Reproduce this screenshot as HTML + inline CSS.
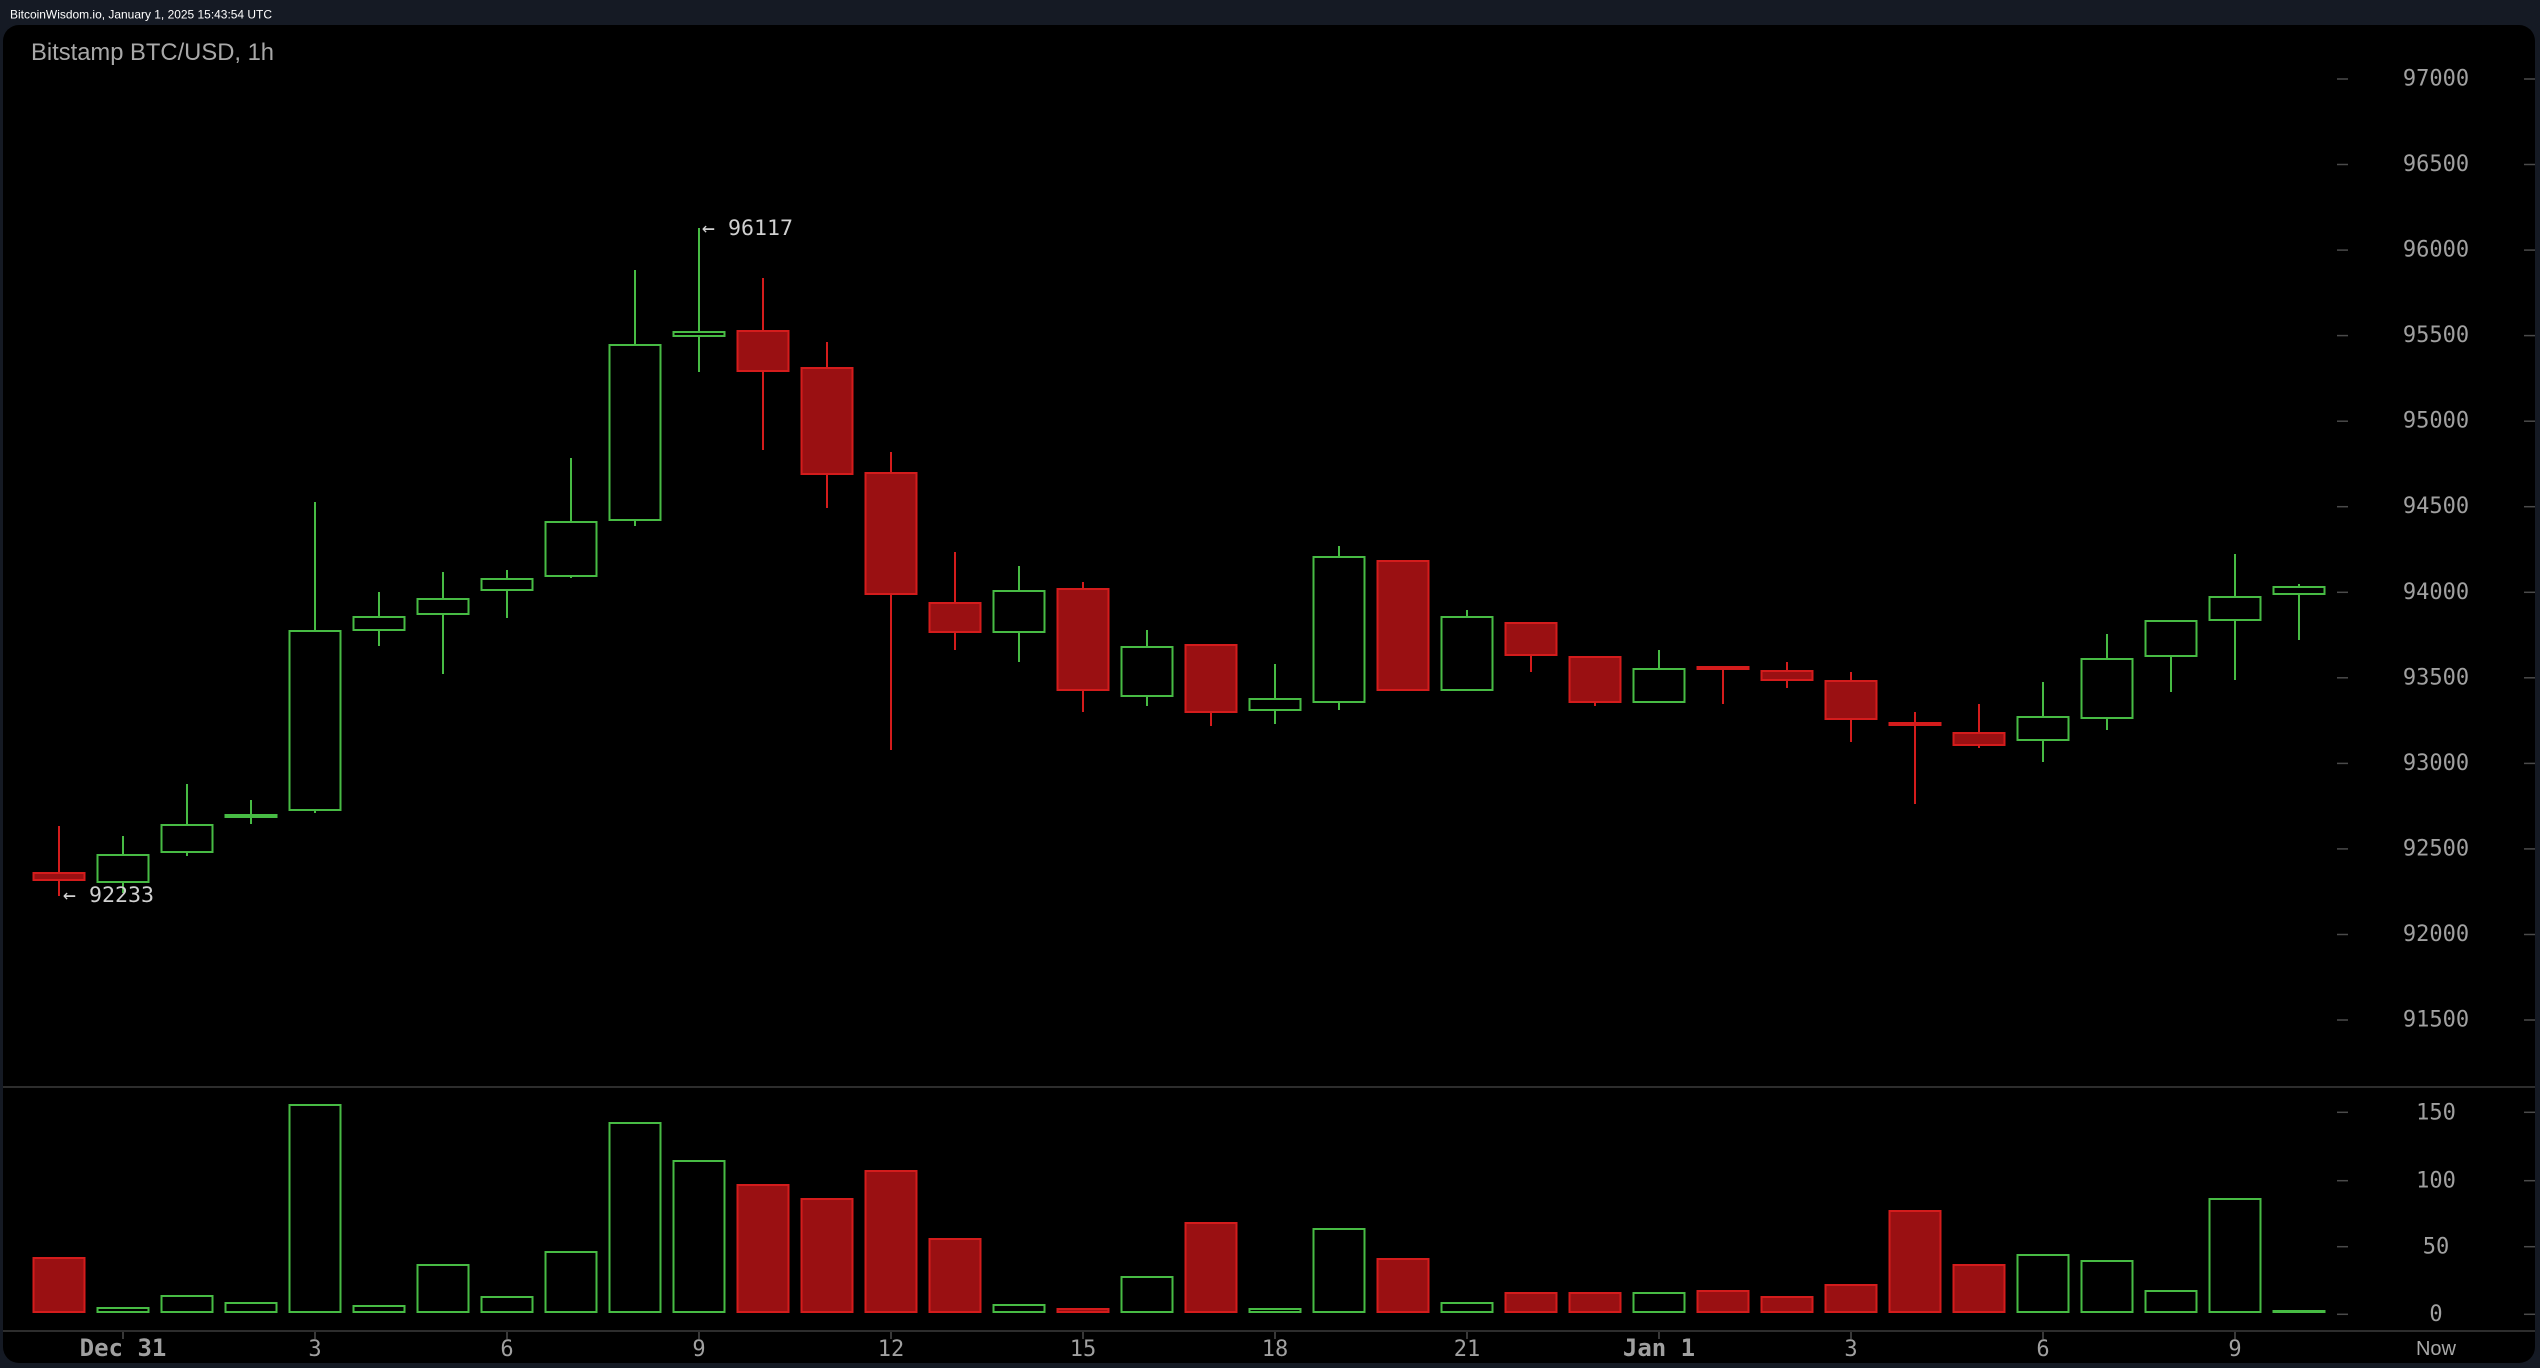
<!DOCTYPE html>
<html>
<head>
<meta charset="utf-8">
<style>
html,body{margin:0;padding:0;background:#151a24;}
body{width:2540px;height:1368px;overflow:hidden;}
svg{display:block;}
.g line{stroke:#47bb44;stroke-width:2;}
.g rect{stroke:#47bb44;stroke-width:2;fill:#000;}
.r line{stroke:#d41c1c;stroke-width:2;}
.r rect{stroke:#d41c1c;stroke-width:2;fill:#9a1012;}
.gf{fill:#47bb44;}
.rf{fill:#d41c1c;}
.ax{font-family:"DejaVu Sans Mono","Liberation Mono",monospace;font-size:22px;fill:#a0a0a0;text-anchor:middle;}
.tk{stroke:#4a4a4a;stroke-width:1.5;}
</style>
</head>
<body>
<svg width="2540" height="1368" viewBox="0 0 2540 1368" xmlns="http://www.w3.org/2000/svg">
<rect x="0" y="0" width="2540" height="1368" fill="#151a24"/>
<text x="10" y="18.5" font-family="Liberation Sans, Arial, sans-serif" font-size="12" fill="#ffffff" textLength="262" lengthAdjust="spacingAndGlyphs">BitcoinWisdom.io, January 1, 2025 15:43:54 UTC</text>
<rect x="3" y="25" width="2532" height="1338" rx="16" ry="16" fill="#000"/>
<text x="31" y="60" font-family="Liberation Sans, Arial, sans-serif" font-size="24" fill="#a8a8a8" textLength="243" lengthAdjust="spacingAndGlyphs">Bitstamp BTC/USD, 1h</text>

<!-- separators -->
<line x1="3" y1="1087" x2="2535" y2="1087" stroke="#3c3c3c" stroke-width="1.5"/>
<line x1="3" y1="1331" x2="2535" y2="1331" stroke="#3c3c3c" stroke-width="1.5"/>

<!-- price axis -->
<g>
<line class="tk" x1="2337" y1="79" x2="2348" y2="79"/><line class="tk" x1="2524" y1="79" x2="2535" y2="79"/>
<line class="tk" x1="2337" y1="164.5" x2="2348" y2="164.5"/><line class="tk" x1="2524" y1="164.5" x2="2535" y2="164.5"/>
<line class="tk" x1="2337" y1="250.1" x2="2348" y2="250.1"/><line class="tk" x1="2524" y1="250.1" x2="2535" y2="250.1"/>
<line class="tk" x1="2337" y1="335.6" x2="2348" y2="335.6"/><line class="tk" x1="2524" y1="335.6" x2="2535" y2="335.6"/>
<line class="tk" x1="2337" y1="421.2" x2="2348" y2="421.2"/><line class="tk" x1="2524" y1="421.2" x2="2535" y2="421.2"/>
<line class="tk" x1="2337" y1="506.7" x2="2348" y2="506.7"/><line class="tk" x1="2524" y1="506.7" x2="2535" y2="506.7"/>
<line class="tk" x1="2337" y1="592.3" x2="2348" y2="592.3"/><line class="tk" x1="2524" y1="592.3" x2="2535" y2="592.3"/>
<line class="tk" x1="2337" y1="677.8" x2="2348" y2="677.8"/><line class="tk" x1="2524" y1="677.8" x2="2535" y2="677.8"/>
<line class="tk" x1="2337" y1="763.4" x2="2348" y2="763.4"/><line class="tk" x1="2524" y1="763.4" x2="2535" y2="763.4"/>
<line class="tk" x1="2337" y1="848.9" x2="2348" y2="848.9"/><line class="tk" x1="2524" y1="848.9" x2="2535" y2="848.9"/>
<line class="tk" x1="2337" y1="934.5" x2="2348" y2="934.5"/><line class="tk" x1="2524" y1="934.5" x2="2535" y2="934.5"/>
<line class="tk" x1="2337" y1="1020" x2="2348" y2="1020"/><line class="tk" x1="2524" y1="1020" x2="2535" y2="1020"/>
<text class="ax" x="2436" y="85.5">97000</text>
<text class="ax" x="2436" y="171">96500</text>
<text class="ax" x="2436" y="256.6">96000</text>
<text class="ax" x="2436" y="342.1">95500</text>
<text class="ax" x="2436" y="427.7">95000</text>
<text class="ax" x="2436" y="513.2">94500</text>
<text class="ax" x="2436" y="598.8">94000</text>
<text class="ax" x="2436" y="684.3">93500</text>
<text class="ax" x="2436" y="769.9">93000</text>
<text class="ax" x="2436" y="855.4">92500</text>
<text class="ax" x="2436" y="941">92000</text>
<text class="ax" x="2436" y="1026.5">91500</text>
</g>

<!-- volume axis -->
<g>
<line class="tk" x1="2337" y1="1112.3" x2="2348" y2="1112.3"/><line class="tk" x1="2524" y1="1112.3" x2="2535" y2="1112.3"/>
<line class="tk" x1="2337" y1="1180.7" x2="2348" y2="1180.7"/><line class="tk" x1="2524" y1="1180.7" x2="2535" y2="1180.7"/>
<line class="tk" x1="2337" y1="1246.7" x2="2348" y2="1246.7"/><line class="tk" x1="2524" y1="1246.7" x2="2535" y2="1246.7"/>
<line class="tk" x1="2337" y1="1314.3" x2="2348" y2="1314.3"/><line class="tk" x1="2524" y1="1314.3" x2="2535" y2="1314.3"/>
<text class="ax" x="2436" y="1119.5">150</text>
<text class="ax" x="2436" y="1187.3">100</text>
<text class="ax" x="2436" y="1253.3">50</text>
<text class="ax" x="2436" y="1321">0</text>
</g>

<!-- x axis -->
<g>
<line class="tk" x1="123" y1="1332" x2="123" y2="1339"/>
<line class="tk" x1="315" y1="1332" x2="315" y2="1339"/>
<line class="tk" x1="507" y1="1332" x2="507" y2="1339"/>
<line class="tk" x1="699" y1="1332" x2="699" y2="1339"/>
<line class="tk" x1="891" y1="1332" x2="891" y2="1339"/>
<line class="tk" x1="1083" y1="1332" x2="1083" y2="1339"/>
<line class="tk" x1="1275" y1="1332" x2="1275" y2="1339"/>
<line class="tk" x1="1467" y1="1332" x2="1467" y2="1339"/>
<line class="tk" x1="1659" y1="1332" x2="1659" y2="1339"/>
<line class="tk" x1="1851" y1="1332" x2="1851" y2="1339"/>
<line class="tk" x1="2043" y1="1332" x2="2043" y2="1339"/>
<line class="tk" x1="2235" y1="1332" x2="2235" y2="1339"/>
<text class="ax" x="123" y="1356" font-weight="bold" style="font-size:24px">Dec 31</text>
<text class="ax" x="315" y="1356">3</text>
<text class="ax" x="507" y="1356">6</text>
<text class="ax" x="699" y="1356">9</text>
<text class="ax" x="891" y="1356">12</text>
<text class="ax" x="1083" y="1356">15</text>
<text class="ax" x="1275" y="1356">18</text>
<text class="ax" x="1467" y="1356">21</text>
<text class="ax" x="1659" y="1356" font-weight="bold" style="font-size:24px">Jan 1</text>
<text class="ax" x="1851" y="1356">3</text>
<text class="ax" x="2043" y="1356">6</text>
<text class="ax" x="2235" y="1356">9</text>
<text x="2436" y="1355" font-family="Liberation Sans, Arial, sans-serif" font-size="20" fill="#a8a8a8" text-anchor="middle">Now</text>
</g>

<!-- candles -->
<g class="r"><line x1="59" y1="826" x2="59" y2="896"/><rect x="33.5" y="873" width="51" height="7"/></g>
<g class="g"><line x1="123" y1="836" x2="123" y2="893"/><rect x="97.5" y="855" width="51" height="27"/></g>
<g class="g"><line x1="187" y1="784" x2="187" y2="856"/><rect x="161.5" y="825" width="51" height="27"/></g>
<g class="g"><line x1="251" y1="800" x2="251" y2="824"/></g><rect class="gf" x="224.5" y="814" width="53" height="4"/>
<g class="g"><line x1="315" y1="502" x2="315" y2="813"/><rect x="289.5" y="631" width="51" height="179"/></g>
<g class="g"><line x1="379" y1="592" x2="379" y2="646"/><rect x="353.5" y="617" width="51" height="13"/></g>
<g class="g"><line x1="443" y1="572" x2="443" y2="674"/><rect x="417.5" y="599" width="51" height="15"/></g>
<g class="g"><line x1="507" y1="570" x2="507" y2="618"/><rect x="481.5" y="579" width="51" height="11"/></g>
<g class="g"><line x1="571" y1="458" x2="571" y2="578"/><rect x="545.5" y="522" width="51" height="54"/></g>
<g class="g"><line x1="635" y1="270" x2="635" y2="526"/><rect x="609.5" y="345" width="51" height="175"/></g>
<g class="g"><line x1="699" y1="228" x2="699" y2="372"/><rect x="673.5" y="332" width="51" height="4"/></g>
<g class="r"><line x1="763" y1="278" x2="763" y2="450"/><rect x="737.5" y="331" width="51" height="40"/></g>
<g class="r"><line x1="827" y1="342" x2="827" y2="508"/><rect x="801.5" y="368" width="51" height="106"/></g>
<g class="r"><line x1="891" y1="452" x2="891" y2="750"/><rect x="865.5" y="473" width="51" height="121"/></g>
<g class="r"><line x1="955" y1="552" x2="955" y2="650"/><rect x="929.5" y="603" width="51" height="29"/></g>
<g class="g"><line x1="1019" y1="566" x2="1019" y2="662"/><rect x="993.5" y="591" width="51" height="41"/></g>
<g class="r"><line x1="1083" y1="582" x2="1083" y2="712"/><rect x="1057.5" y="589" width="51" height="101"/></g>
<g class="g"><line x1="1147" y1="630" x2="1147" y2="706"/><rect x="1121.5" y="647" width="51" height="49"/></g>
<g class="r"><line x1="1211" y1="644" x2="1211" y2="726"/><rect x="1185.5" y="645" width="51" height="67"/></g>
<g class="g"><line x1="1275" y1="664" x2="1275" y2="724"/><rect x="1249.5" y="699" width="51" height="11"/></g>
<g class="g"><line x1="1339" y1="546" x2="1339" y2="710"/><rect x="1313.5" y="557" width="51" height="145"/></g>
<g class="r"><rect x="1377.5" y="561" width="51" height="129"/></g>
<g class="g"><line x1="1467" y1="610" x2="1467" y2="691"/><rect x="1441.5" y="617" width="51" height="73"/></g>
<g class="r"><line x1="1531" y1="622" x2="1531" y2="672"/><rect x="1505.5" y="623" width="51" height="32"/></g>
<g class="r"><line x1="1595" y1="656" x2="1595" y2="706"/><rect x="1569.5" y="657" width="51" height="45"/></g>
<g class="g"><line x1="1659" y1="650" x2="1659" y2="703"/><rect x="1633.5" y="669" width="51" height="33"/></g>
<g class="r"><line x1="1723" y1="666" x2="1723" y2="704"/></g><rect class="rf" x="1696.5" y="666" width="53" height="4"/>
<g class="r"><line x1="1787" y1="662" x2="1787" y2="688"/><rect x="1761.5" y="671" width="51" height="9"/></g>
<g class="r"><line x1="1851" y1="672" x2="1851" y2="742"/><rect x="1825.5" y="681" width="51" height="38"/></g>
<g class="r"><line x1="1915" y1="712" x2="1915" y2="804"/></g><rect class="rf" x="1888.5" y="722" width="53" height="4"/>
<g class="r"><line x1="1979" y1="704" x2="1979" y2="748"/><rect x="1953.5" y="733" width="51" height="12"/></g>
<g class="g"><line x1="2043" y1="682" x2="2043" y2="762"/><rect x="2017.5" y="717" width="51" height="23"/></g>
<g class="g"><line x1="2107" y1="634" x2="2107" y2="730"/><rect x="2081.5" y="659" width="51" height="59"/></g>
<g class="g"><line x1="2171" y1="620" x2="2171" y2="692"/><rect x="2145.5" y="621" width="51" height="35"/></g>
<g class="g"><line x1="2235" y1="554" x2="2235" y2="680"/><rect x="2209.5" y="597" width="51" height="23"/></g>
<g class="g"><line x1="2299" y1="584" x2="2299" y2="640"/><rect x="2273.5" y="587" width="51" height="7"/></g>

<!-- high/low labels -->
<text x="702" y="235" font-family="DejaVu Sans Mono, Liberation Mono, monospace" font-size="21.6" fill="#d0d0d0">← 96117</text>
<text x="63" y="902" font-family="DejaVu Sans Mono, Liberation Mono, monospace" font-size="21.6" fill="#d0d0d0">← 92233</text>

<!-- volume -->
<g class="r"><rect x="33.5" y="1258" width="51" height="54"/></g>
<g class="g"><rect x="97.5" y="1308" width="51" height="4"/></g>
<g class="g"><rect x="161.5" y="1296" width="51" height="16"/></g>
<g class="g"><rect x="225.5" y="1303" width="51" height="9"/></g>
<g class="g"><rect x="289.5" y="1105" width="51" height="207"/></g>
<g class="g"><rect x="353.5" y="1306" width="51" height="6"/></g>
<g class="g"><rect x="417.5" y="1265" width="51" height="47"/></g>
<g class="g"><rect x="481.5" y="1297" width="51" height="15"/></g>
<g class="g"><rect x="545.5" y="1252" width="51" height="60"/></g>
<g class="g"><rect x="609.5" y="1123" width="51" height="189"/></g>
<g class="g"><rect x="673.5" y="1161" width="51" height="151"/></g>
<g class="r"><rect x="737.5" y="1185" width="51" height="127"/></g>
<g class="r"><rect x="801.5" y="1199" width="51" height="113"/></g>
<g class="r"><rect x="865.5" y="1171" width="51" height="141"/></g>
<g class="r"><rect x="929.5" y="1239" width="51" height="73"/></g>
<g class="g"><rect x="993.5" y="1305" width="51" height="7"/></g>
<g class="r"><rect x="1057.5" y="1309" width="51" height="3"/></g>
<g class="g"><rect x="1121.5" y="1277" width="51" height="35"/></g>
<g class="r"><rect x="1185.5" y="1223" width="51" height="89"/></g>
<g class="g"><rect x="1249.5" y="1309" width="51" height="3"/></g>
<g class="g"><rect x="1313.5" y="1229" width="51" height="83"/></g>
<g class="r"><rect x="1377.5" y="1259" width="51" height="53"/></g>
<g class="g"><rect x="1441.5" y="1303" width="51" height="9"/></g>
<g class="r"><rect x="1505.5" y="1293" width="51" height="19"/></g>
<g class="r"><rect x="1569.5" y="1293" width="51" height="19"/></g>
<g class="g"><rect x="1633.5" y="1293" width="51" height="19"/></g>
<g class="r"><rect x="1697.5" y="1291" width="51" height="21"/></g>
<g class="r"><rect x="1761.5" y="1297" width="51" height="15"/></g>
<g class="r"><rect x="1825.5" y="1285" width="51" height="27"/></g>
<g class="r"><rect x="1889.5" y="1211" width="51" height="101"/></g>
<g class="r"><rect x="1953.5" y="1265" width="51" height="47"/></g>
<g class="g"><rect x="2017.5" y="1255" width="51" height="57"/></g>
<g class="g"><rect x="2081.5" y="1261" width="51" height="51"/></g>
<g class="g"><rect x="2145.5" y="1291" width="51" height="21"/></g>
<g class="g"><rect x="2209.5" y="1199" width="51" height="113"/></g>
<rect class="gf" x="2272.5" y="1310" width="53" height="3"/>
</svg>
</body>
</html>
